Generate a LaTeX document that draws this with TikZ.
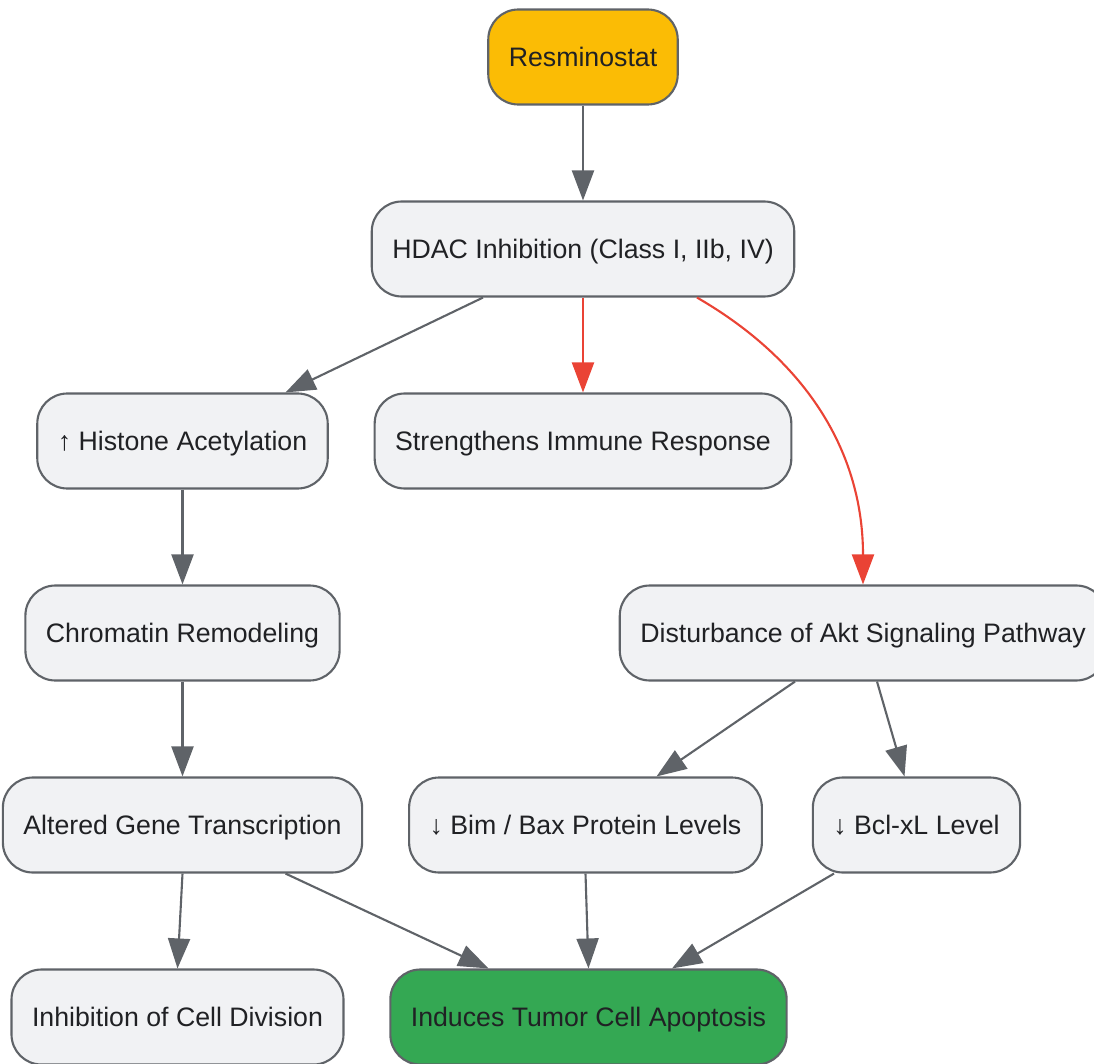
\documentclass[tikz,border=0pt]{standalone}
\usepackage{fontspec}
\setmainfont{Liberation Sans}
\usepackage{tikz}
\usetikzlibrary{ % tikz packages
    positioning,
    arrows.meta
}
\definecolor{boxgray}{HTML}{F1F2F4}
\definecolor{linegray}{HTML}{5F6368}
\definecolor{textgray}{HTML}{202124}
\definecolor{drugyellow}{HTML}{FBBC05}
\definecolor{goodgreen}{HTML}{34A853}
\definecolor{hotred}{HTML}{EA4335}
\tikzset{proc/.style={
    draw=linegray,
    fill=boxgray,
    line width=1.2pt,
    rounded corners=0.6cm,
    minimum height=1.9cm,
    inner xsep=0.41cm,
    text height=14.2pt,
    text depth=3.2pt,
    text=textgray,
    font=\fontsize{15.2}{18}\selectfont
}}
\tikzset{>={Triangle[length=0.6cm,width=0.44cm]}}

\begin{document}
\begin{tikzpicture}[node distance=3.84cm,on grid]
            \useasboundingbox (0,0) rectangle (21.88,-21.28);
            \node[proc, fill=drugyellow] (res) at (11.66,-1.14) {Resminostat};
            \node[proc] (hdac) [below=of res] {HDAC Inhibition (Class I, IIb, IV)};
            \node[proc] (hist) [below left=3.84cm and 8.01cm of hdac] {↑ Histone Acetylation};
            \node[proc] (immune) [below=of hdac] {Strengthens Immune Response};
            \node[proc] (chrom) [below=of hist] {Chromatin Remodeling};
            \node[proc] (akt) [below right=7.68cm and 5.6cm of hdac] {Disturbance of Akt Signaling Pathway};
            \node[proc] (alt) [below=of chrom] {Altered Gene Transcription};
            \node[proc] (bim) [below left=3.84cm and 5.55cm of akt] {↓ Bim / Bax Protein Levels};
            \node[proc] (bcl) [below right=3.84cm and 1.07cm of akt] {↓ Bcl-xL Level};
            \node[proc] (inhib) [below left=3.84cm and 0.1cm of alt] {Inhibition of Cell Division};
            \node[proc, fill=goodgreen] (apop) [below right=3.84cm and 0.06cm of bim] {Induces Tumor Cell Apoptosis};

            \path[->, every edge/.append style={draw=linegray, line width=1.2pt}]
                (res)
                    edge (hdac)
                ([xshift=-2cm]hdac.south)
                    edge ([xshift=2.06cm]hist.north)
                (hist)
                    edge (chrom)
                (chrom)
                    edge (alt)
                ([xshift=-1.36cm]akt.south)
                    edge ([xshift=1.42cm]bim.north)
                ([xshift=0.28cm]akt.south)
                    edge ([xshift=-0.24cm]bcl.north)
                (alt.south)
                    edge (inhib.north)
                ([xshift=2.06cm]alt.south)
                    edge ([xshift=-2cm]apop.north)
                (bim.south)
                    edge (apop.north)
                ([xshift=-1.65cm]bcl.south)
                    edge ([xshift=1.67cm]apop.north);
            \path[->, every edge/.append style={draw=hotred, line width=1.2pt}]
                (hdac)
                    edge (immune)
                ([xshift=2.28cm]hdac.south)
                    edge[out=-30, in=90] (akt.north);
        \end{tikzpicture}
\end{document}
